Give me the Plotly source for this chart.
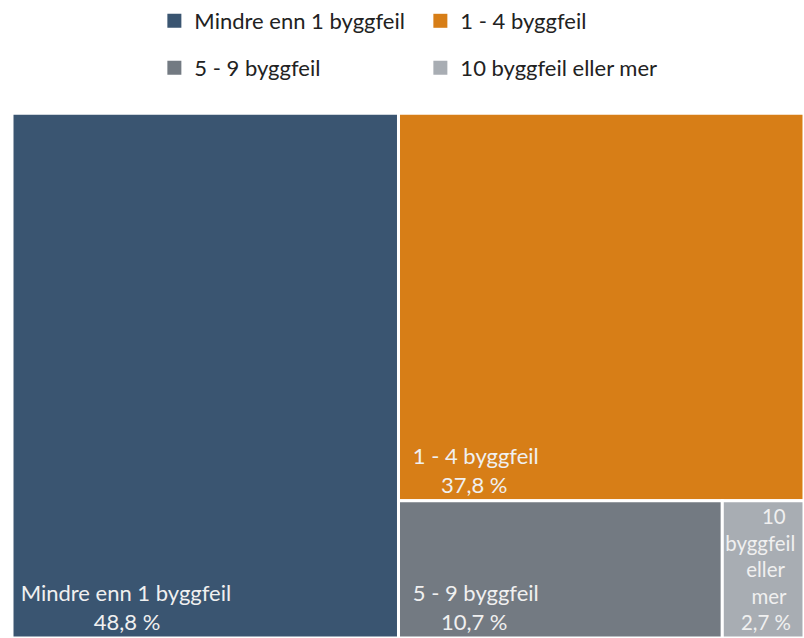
import plotly.graph_objects as go

categories = ["Mindre enn 1 byggfeil", "1 - 4 byggfeil", "5 - 9 byggfeil", "10 byggfeil eller mer"]
values = [48.8, 37.8, 10.7, 2.7]
value_labels = ["48,8 %", "37,8 %", "10,7 %", "2,7 %"]
colors = ["#3A5571", "#D77E17", "#737A82", "#A8ADB3"]

FONT = "Lato, Open Sans, sans-serif"
NB = "\u00a0"

# cell labels: lines padded with non-breaking spaces so they read centred
cell_text = [
    NB * 1 + "Mindre enn 1 byggfeil<br>" + NB * 14 + value_labels[0],
    NB * 2 + "1 - 4 byggfeil<br>" + NB * 7 + value_labels[1],
    NB * 2 + "5 - 9 byggfeil<br>" + NB * 7 + value_labels[2],
    NB * 7 + "10<br>byggfeil<br>" + NB * 4 + "eller<br>" + NB * 5 + "mer<br>" + NB * 3 + value_labels[3],
]

fig = go.Figure()
fig.add_trace(go.Treemap(
    labels=categories,
    parents=[""] * len(categories),
    values=values,
    text=cell_text,
    texttemplate="%{text}",
    textposition="bottom left",
    textfont=dict(family=FONT, size=22, color="#F0F0F0"),
    marker=dict(colors=colors, line=dict(color="white", width=3),
                pad=dict(t=0, l=0, r=0, b=0)),
    tiling=dict(packing="squarify", pad=0),
    pathbar=dict(visible=False),
    sort=True,
    branchvalues="remainder",
    domain=dict(x=[12 / 804, 1], y=[0, 534 / 638]),
    hoverinfo="label+value",
))

for i, (name, col) in enumerate(zip(categories, colors)):
    fig.add_trace(go.Scatter(
        x=[None], y=[None], mode="markers", name=name,
        marker=dict(symbol="square", size=14, color=col),
        showlegend=True,
        legend="legend" if i < 2 else "legend2",
    ))

leg_common = dict(
    orientation="h", xanchor="left", yanchor="middle",
    font=dict(size=22, family=FONT, color="#222222"),
    entrywidth=221, entrywidthmode="pixels",
    itemwidth=30, bgcolor="rgba(0,0,0,0)",
)

fig.update_layout(
    width=804, height=638,
    margin=dict(l=0, r=0, t=0, b=0),
    paper_bgcolor="white", plot_bgcolor="white",
    font=dict(family=FONT, color="#222222"),
    xaxis=dict(visible=False), yaxis=dict(visible=False),
    legend=dict(x=0.192, y=1 - 10 / 638, **leg_common),
    legend2=dict(x=0.192, y=1 - 58 / 638, **leg_common),
)

fig.write_html(
    "out.html",
    config={"displayModeBar": False},
    post_script="document.body.style.margin='0';document.body.style.overflow='hidden';",
)
